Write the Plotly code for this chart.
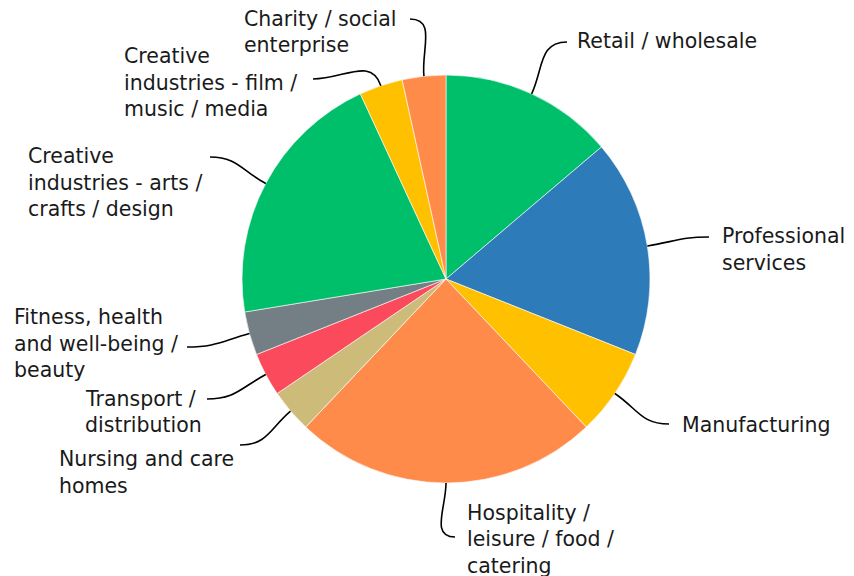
import math
import plotly.graph_objects as go

# ---- data ----
categories = [
    "Retail / wholesale",
    "Professional services",
    "Manufacturing",
    "Hospitality / leisure / food / catering",
    "Nursing and care homes",
    "Transport / distribution",
    "Fitness, health and well-being / beauty",
    "Creative industries - arts / crafts / design",
    "Creative industries - film / music / media",
    "Charity / social enterprise",
]
values = [4, 5, 2, 7, 1, 1, 1, 6, 1, 1]
label_lines = [
    ["Retail / wholesale"],
    ["Professional", "services"],
    ["Manufacturing"],
    ["Hospitality /", "leisure / food /", "catering"],
    ["Nursing and care", "homes"],
    ["Transport /", "distribution"],
    ["Fitness, health", "and well-being /", "beauty"],
    ["Creative", "industries - arts /", "crafts / design"],
    ["Creative", "industries - film /", "music / media"],
    ["Charity / social", "enterprise"],
]

# ---- style / layout ----
colors = ["#00BF6B", "#2E7BBA", "#FFC000", "#FF8B4B", "#CDBB7A",
          "#FA4A5B", "#737F85", "#00BF6B", "#FFC000", "#FF8B4B"]
OFF = 8                      # page body margin
W, H = 854, 576              # figure size
CX, CY, R = 446, 279, 204    # pie centre / radius in page pixels
FONT = 20.5
LINE_H = 26.7
# label placement: (left x, baseline of first line) in page pixels
label_pos = [
    (576, 48.3), (721, 243.3), (681, 432.3), (466, 520), (58.3, 466.7),
    (84, 406), (13.3, 324.3), (27.3, 163.3), (122.7, 63.3), (243.3, 26),
]
line_end = [
    (567, 42), (709, 237), (669, 424), (455, 537), (240, 445),
    (207, 399), (187, 347), (210, 157), (313, 79), (410, 19),
]
end_dir = [-1, -1, -1, -1, 1, 1, 1, 1, 1, 1]  # tangent offset direction at end


def px(x):
    return (x - OFF) / W


def py(y):
    return 1 - (y - OFF) / H


fig = go.Figure(go.Pie(
    labels=categories,
    values=values,
    sort=False,
    direction="clockwise",
    rotation=0,
    marker=dict(colors=colors, line=dict(color="white", width=0.6)),
    textinfo="none",
    hoverinfo="label+value+percent",
    domain=dict(x=[px(CX - R), px(CX + R)], y=[py(CY + R), py(CY - R)]),
    showlegend=False,
))

total = sum(values)
cum = 0
shapes = []
annotations = []
for i, v in enumerate(values):
    mid = (cum + v / 2) / total * 2 * math.pi
    cum += v
    sx = CX + R * math.sin(mid)
    sy = CY - R * math.cos(mid)
    ex, ey = line_end[i]
    d = math.hypot(ex - sx, ey - sy)
    k = 0.45 * d
    c1x = sx + k * math.sin(mid)
    c1y = sy - k * math.cos(mid)
    c2x = ex + end_dir[i] * 0.45 * d
    c2y = ey
    path = (f"M {px(sx)},{py(sy)} C {px(c1x)},{py(c1y)} "
            f"{px(c2x)},{py(c2y)} {px(ex)},{py(ey)}")
    shapes.append(dict(type="path", path=path, xref="paper", yref="paper",
                       line=dict(color="black", width=1.6)))
    lx, lb = label_pos[i]
    for j, txt in enumerate(label_lines[i]):
        base = lb + j * LINE_H
        annotations.append(dict(
            x=px(lx), y=py(base - 0.36 * FONT), xref="paper", yref="paper",
            text=txt, showarrow=False, borderpad=0,
            xanchor="left", yanchor="middle", align="left",
            font=dict(family="DejaVu Sans", size=FONT, color="#1a1a1a"),
        ))

fig.update_layout(
    width=W, height=H,
    margin=dict(l=0, r=0, t=0, b=0),
    paper_bgcolor="white",
    plot_bgcolor="white",
    shapes=shapes,
    annotations=annotations,
)

fig.write_html("out.html")
